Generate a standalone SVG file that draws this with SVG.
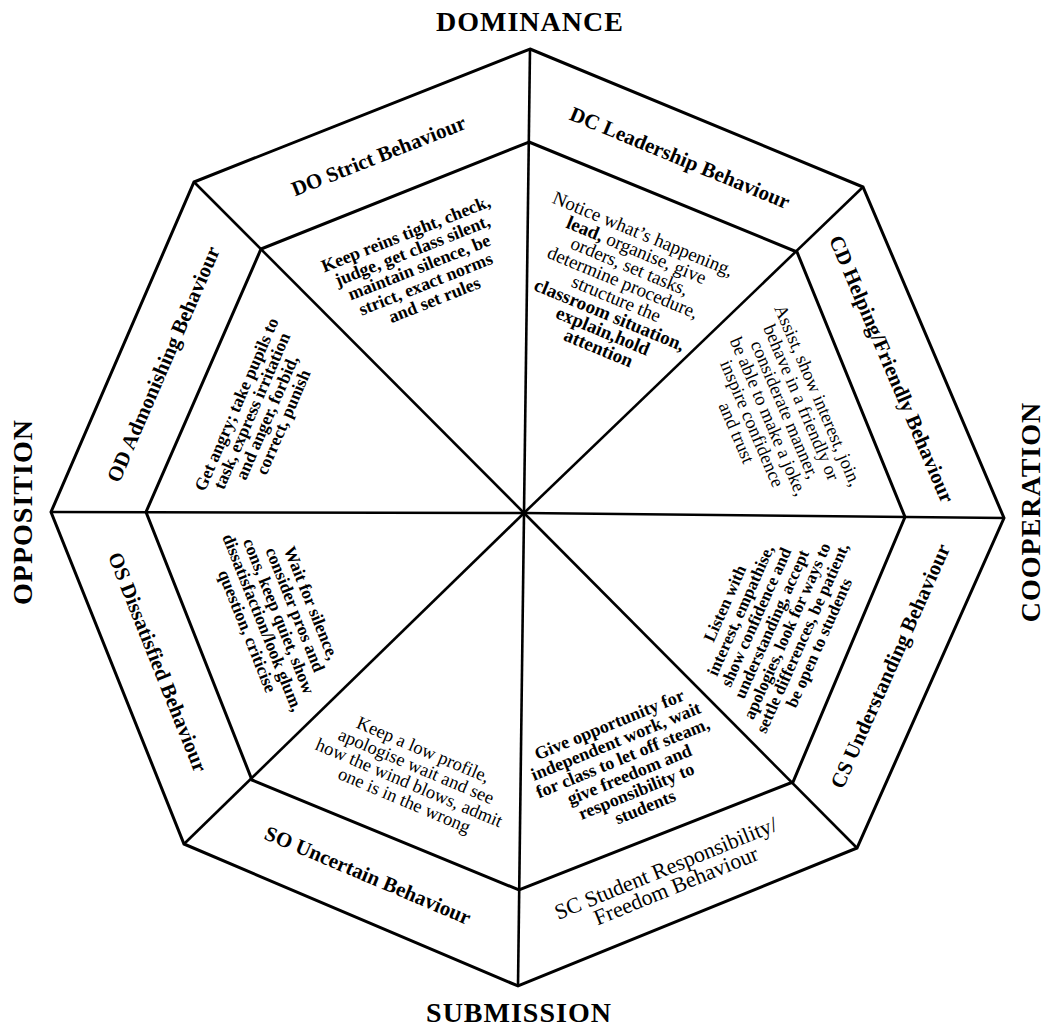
<svg xmlns="http://www.w3.org/2000/svg" width="1046" height="1030" viewBox="0 0 1046 1030">
<style>
.edge{fill:none;stroke:#000;stroke-width:3;stroke-linejoin:miter}
.ray{stroke:#000;stroke-width:2.6}
.axis{font-family:"Liberation Serif",serif;font-weight:bold;font-size:28px;letter-spacing:1px;text-anchor:middle}
.band{font-family:"Liberation Serif",serif;font-weight:bold;font-size:21px;text-anchor:middle}
.bandr{font-family:"Liberation Serif",serif;font-size:22px;text-anchor:middle}
.blk{font-family:"Liberation Serif",serif;text-anchor:middle}
.b{font-weight:bold}
</style>
<rect width="1046" height="1030" fill="#fff"/>
<g id="frame">
<polygon class="edge" points="530,49 863,187 1004,518 857,848 518,986 184,844 51,512 194,182"/>
<polygon class="edge" points="529,142 797,252 905,517 793,782 519,890 252,780 146,512 261,249"/>
</g>
<g id="connectors">
<line class="ray" x1="524" y1="513" x2="530" y2="49"/>
<line class="ray" x1="524" y1="513" x2="863" y2="187"/>
<line class="ray" x1="524" y1="513" x2="1004" y2="518"/>
<line class="ray" x1="524" y1="513" x2="857" y2="848"/>
<line class="ray" x1="524" y1="513" x2="518" y2="986"/>
<line class="ray" x1="524" y1="513" x2="184" y2="844"/>
<line class="ray" x1="524" y1="513" x2="51" y2="512"/>
<line class="ray" x1="524" y1="513" x2="194" y2="182"/>
</g>
<g id="axes">
<text class="axis" x="530" y="31">DOMINANCE</text>
<text class="axis" x="519" y="1022">SUBMISSION</text>
<text class="axis" transform="translate(32,512) rotate(-90)">OPPOSITION</text>
<text class="axis" transform="translate(1040,512) rotate(-90)">COOPERATION</text>
</g>
<g id="DO">
<text class="band" transform="translate(378.5,155.5) rotate(-21.6)" y="7.3">DO Strict Behaviour</text>
<text class="blk b" font-size="18" transform="translate(421,266) rotate(-21.6)">
<tspan x="0" y="-29.7">Keep reins tight, check,</tspan>
<tspan x="0" y="-11.7">judge, get class silent,</tspan>
<tspan x="0" y="6.3">maintain silence, be</tspan>
<tspan x="0" y="24.3">strict, exact norms</tspan>
<tspan x="0" y="42.3">and set rules</tspan>
</text>
</g>
<g id="DC">
<text class="band" transform="translate(680,157.5) rotate(22.5)" y="7.3">DC Leadership Behaviour</text>
<text class="blk" font-size="19" transform="translate(622,291) rotate(22.5)">
<tspan x="0" y="-54.6">Notice what’s happening,</tspan>
<tspan x="0" y="-37.1"><tspan class="b">lead,</tspan> organise, give</tspan>
<tspan x="0" y="-19.6">orders, set tasks,</tspan>
<tspan x="0" y="-2.1">determine procedure,</tspan>
<tspan x="0" y="15.4">structure the</tspan>
<tspan x="0" y="32.9" class="b">classroom situation,</tspan>
<tspan x="0" y="50.4" class="b">explain,hold</tspan>
<tspan x="0" y="67.9" class="b">attention</tspan>
</text>
</g>
<g id="CD">
<text class="band" transform="translate(892,369) rotate(66.9)" y="7.3">CD Helping/Friendly Behaviour</text>
<text class="blk" font-size="18.5" transform="translate(778,415) rotate(66.9)">
<tspan x="0" y="-38.3">Assist, show interest, join,</tspan>
<tspan x="0" y="-20.4">behave in a friendly or</tspan>
<tspan x="0" y="-2.5">considerate manner,</tspan>
<tspan x="0" y="15.4">be able to make a joke,</tspan>
<tspan x="0" y="33.3">inspire confidence</tspan>
<tspan x="0" y="51.2">and trust</tspan>
</text>
</g>
<g id="CS">
<text class="band" transform="translate(890,666) rotate(-66)" y="7.3">CS Understanding Behaviour</text>
<text class="blk b" font-size="17" transform="translate(772,622) rotate(-66)">
<tspan x="0" y="-45">Listen with</tspan>
<tspan x="0" y="-28">interest, empathise,</tspan>
<tspan x="0" y="-11">show confidence and</tspan>
<tspan x="0" y="6">understanding, accept</tspan>
<tspan x="0" y="23">apologies, look for ways to</tspan>
<tspan x="0" y="40">settle differences, be patient,</tspan>
<tspan x="0" y="57">be open to students</tspan>
</text>
</g>
<g id="SC">
<text class="bandr" transform="translate(672,876) rotate(-22.2)">
<tspan x="0" y="-2.3">SC Student Responsibility/</tspan>
<tspan x="0" y="17.7">Freedom  Behaviour</tspan>
</text>
<text class="blk b" font-size="18" transform="translate(628,765) rotate(-22.2)">
<tspan x="0" y="-38.7">Give opportunity for</tspan>
<tspan x="0" y="-20.7">independent work, wait</tspan>
<tspan x="0" y="-2.7">for class to let off steam,</tspan>
<tspan x="0" y="15.3">give freedom and</tspan>
<tspan x="0" y="33.3">responsibility to</tspan>
<tspan x="0" y="51.3">students</tspan>
</text>
</g>
<g id="SO">
<text class="band" transform="translate(368,875) rotate(23)" y="7.3">SO Uncertain Behaviour</text>
<text class="blk" font-size="18.5" transform="translate(415,775) rotate(23)">
<tspan x="0" y="-20.5">Keep a low profile,</tspan>
<tspan x="0" y="-2.5">apologise wait and see</tspan>
<tspan x="0" y="15.5">how the wind blows, admit</tspan>
<tspan x="0" y="33.5">one is in the wrong</tspan>
</text>
</g>
<g id="OS">
<text class="band" transform="translate(158,662) rotate(68.2)" y="7.3">OS Dissatisfied Behaviour</text>
<text class="blk b" font-size="17.5" transform="translate(280,618) rotate(68.2)">
<tspan x="0" y="-28.9">Wait for silence,</tspan>
<tspan x="0" y="-11.4">consider pros and</tspan>
<tspan x="0" y="6.1">cons, keep quiet, show</tspan>
<tspan x="0" y="23.6">dissatisfaction/look glum,</tspan>
<tspan x="0" y="41.1">question, criticise</tspan>
</text>
</g>
<g id="OD">
<text class="band" transform="translate(163,364) rotate(-66.6)" y="7.3">OD Admonishing Behaviour</text>
<text class="blk b" font-size="17.5" transform="translate(260,412) rotate(-66.6)">
<tspan x="0" y="-18.9">Get angry; take pupils to</tspan>
<tspan x="0" y="-2.2">task, express irritation</tspan>
<tspan x="0" y="14.4">and anger, forbid,</tspan>
<tspan x="0" y="31.1">correct, punish</tspan>
</text>
</g>
</svg>
